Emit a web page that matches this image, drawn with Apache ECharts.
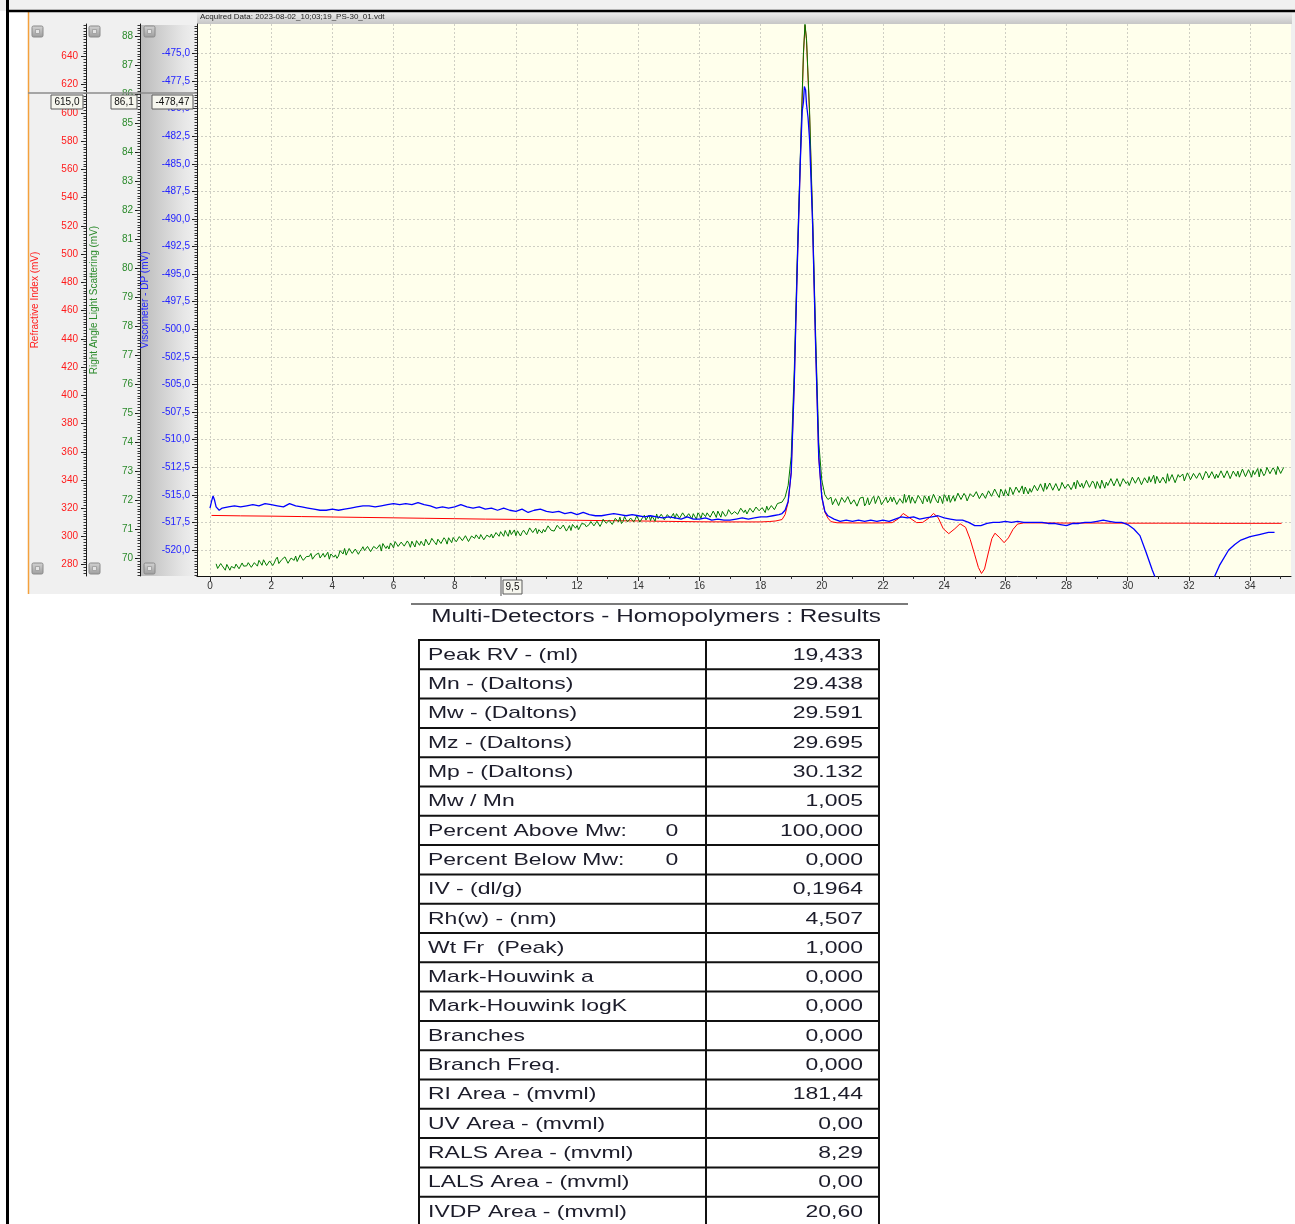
<!DOCTYPE html>
<html>
<head>
<meta charset="utf-8">
<title>PS-30 multi-detector chromatogram</title>
<script src="https://cdn.jsdelivr.net/npm/echarts@6.0.0/dist/echarts.min.js"></script>
<style>
  html, body { margin: 0; padding: 0; background: #ffffff; }
  #chart { width: 1295px; height: 1224px; }
</style>
</head>
<body>
<div id="chart"></div>
<script>
// ---- data (retention volume in ml) ----

// Refractive Index trace, mV
const riTrace = [
  [0.05, 314.9], [1, 314.6], [2, 314.4], [3, 314.1], [4, 313.8], [5, 313.5], [6, 313.2], [7, 312.9],
  [8, 312.6], [9, 312.3], [10, 312.1], [11, 311.8], [12, 311.5], [13, 311.2], [14, 311.0], [15, 310.7],
  [16, 310.4], [17, 310.3], [18, 310.3], [18.3, 310.6], [18.5, 311.0], [18.6, 311.5], [18.7, 312.0],
  [18.8, 315.5], [18.9, 324.3], [19.0, 345.4], [19.1, 408.7], [19.2, 493.2], [19.3, 567.1], [19.4, 641.0],
  [19.45, 662.1], [19.5, 651.5], [19.6, 598.8], [19.7, 521.3], [19.8, 433.4], [19.9, 355.9], [20.0, 327.8],
  [20.1, 317.2], [20.2, 313.0], [20.3, 310.5], [20.5, 309.7], [21, 309.6], [22, 309.6], [22.3, 309.8],
  [22.5, 312.5], [22.66, 316.3], [22.85, 313.5], [23.1, 309.8], [23.3, 310.0], [23.5, 313.0], [23.65, 316.3],
  [23.8, 313.5], [23.97, 305.5], [24.15, 302.0], [24.35, 305.5], [24.52, 309.0], [24.7, 306.5], [24.85, 298.0],
  [25.0, 287.0], [25.12, 278.0], [25.22, 273.8], [25.32, 277.0], [25.45, 289.0], [25.56, 298.5], [25.66, 302.3],
  [25.8, 299.5], [25.96, 295.6], [26.1, 299.0], [26.25, 305.0], [26.4, 308.8], [26.6, 309.6], [27, 309.6],
  [28, 309.5], [29, 309.5], [30, 309.4], [31, 309.4], [32, 309.4], [33, 309.3], [34, 309.3], [35.03, 309.3]
];

// Right Angle Light Scattering, mV: noisy baseline, two interleaved sample sets 0.05 ml apart
const ralsStep = 0.1;
const ralsPreStart = 0.2;
const ralsPre = [
  69.80, 69.62, 69.73, 69.58, 69.76, 69.71, 69.65, 69.84, 69.61, 69.72,
  69.73, 69.86, 69.67, 69.83, 69.92, 69.75, 69.84, 69.73, 69.91, 69.83,
  70.03, 69.84, 69.91, 70.01, 69.81, 70.00, 70.07, 69.92, 70.00, 69.89,
  70.09, 70.16, 69.95, 70.07, 70.00, 70.16, 70.05, 69.96, 70.19, 70.11,
  70.07, 70.23, 70.33, 70.14, 70.24, 70.11, 70.32, 70.23, 70.39, 70.21,
  70.36, 70.24, 70.45, 70.35, 70.24, 70.45, 70.42, 70.52, 70.35, 70.49,
  70.42, 70.60, 70.41, 70.51, 70.58, 70.38, 70.52, 70.58, 70.42, 70.67,
  70.54, 70.63, 70.46, 70.70, 70.54, 70.63, 70.70, 70.53, 70.63, 70.57,
  70.77, 70.64, 70.75, 70.56, 70.74, 70.80, 70.66, 70.75, 70.64, 70.84,
  70.83, 70.67, 70.83, 70.91, 70.75, 70.84, 70.97, 70.81, 70.77, 70.93,
  70.88, 70.99, 70.83, 71.06, 70.88, 70.84, 71.01, 70.99, 70.85, 71.09,
  71.02, 70.95, 71.14, 70.94, 71.11, 71.02, 70.95, 71.15, 71.12, 71.03,
  71.25, 71.08, 71.16, 71.25, 71.06, 71.25, 71.19, 71.32, 71.16, 71.28,
  71.17, 71.35, 71.41, 71.26, 71.33, 71.19, 71.42, 71.33, 71.41, 71.28,
  71.48, 71.35, 71.29, 71.43, 71.52, 71.33, 71.43, 71.29, 71.49, 71.43,
  71.36, 71.53, 71.41, 71.56, 71.35, 71.49, 71.53, 71.34, 71.49, 71.56,
  71.43, 71.62, 71.42, 71.52, 71.62, 71.41, 71.59, 71.51, 71.67, 71.50,
  71.61, 71.49, 71.69, 71.66, 71.50, 71.71, 71.60, 71.76, 71.59, 71.69,
  71.79, 71.65, 71.77, 71.66, 71.86
];
const ralsPreMidStart = 0.25;
const ralsPreMid = [
  69.64, 69.81, 69.68, 69.78, 69.58, 69.74, 69.79, 69.63, 69.83, 69.66,
  69.84, 69.68, 69.84, 69.72, 69.84, 69.94, 69.74, 69.90, 69.74, 69.96,
  69.81, 69.95, 70.04, 69.82, 70.00, 69.92, 69.88, 70.11, 69.92, 70.05,
  70.06, 69.96, 70.11, 70.17, 69.97, 70.03, 70.20, 70.14, 70.03, 69.99,
  70.26, 70.14, 70.10, 70.33, 70.16, 70.31, 70.13, 70.30, 70.26, 70.40,
  70.22, 70.40, 70.32, 70.46, 70.50, 70.33, 70.31, 70.45, 70.57, 70.40,
  70.55, 70.41, 70.59, 70.37, 70.52, 70.60, 70.44, 70.49, 70.65, 70.45,
  70.68, 70.53, 70.65, 70.50, 70.70, 70.48, 70.64, 70.71, 70.56, 70.74,
  70.60, 70.77, 70.57, 70.76, 70.68, 70.83, 70.81, 70.63, 70.79, 70.72,
  70.69, 70.88, 70.75, 70.85, 70.95, 70.75, 70.81, 70.97, 70.94, 70.76,
  70.96, 70.80, 71.04, 70.88, 71.03, 70.98, 70.86, 70.90, 71.11, 70.96,
  70.93, 71.13, 71.00, 71.14, 70.93, 71.12, 71.16, 71.03, 70.98, 71.19,
  71.17, 71.05, 71.26, 71.11, 71.27, 71.09, 71.34, 71.20, 71.30, 71.16,
  71.37, 71.25, 71.19, 71.43, 71.25, 71.38, 71.25, 71.46, 71.24, 71.41,
  71.31, 71.48, 71.45, 71.27, 71.36, 71.51, 71.32, 71.50, 71.37, 71.54,
  71.53, 71.37, 71.56, 71.40, 71.53, 71.35, 71.43, 71.56, 71.37, 71.54,
  71.56, 71.41, 71.62, 71.40, 71.56, 71.61, 71.44, 71.67, 71.51, 71.60,
  71.51, 71.72, 71.57, 71.52, 71.72, 71.58, 71.76, 71.63, 71.74, 71.57,
  71.65, 71.81, 71.67, 71.88
];
const ralsPeak = [
  [18.7, 71.93], [18.8, 72.10], [18.9, 72.51], [19.0, 73.51], [19.1, 76.49], [19.2, 80.47], [19.3, 83.95],
  [19.4, 87.44], [19.45, 88.42], [19.5, 87.92], [19.6, 85.43], [19.7, 81.79], [19.8, 77.64], [19.9, 74.00],
  [20.0, 72.68], [20.1, 72.18], [20.2, 72.02]
];
const ralsPostStart = 20.3;
const ralsPost = [
  72.10, 71.85, 72.02, 71.80, 72.05, 71.92, 72.13, 71.87, 71.98, 71.83,
  72.03, 71.80, 72.08, 71.93, 72.13, 71.87, 72.03, 71.81, 72.10, 71.98,
  71.94, 72.15, 71.89, 72.08, 72.20, 71.94, 71.89, 72.13, 72.02, 72.17,
  71.87, 72.07, 72.14, 71.94, 72.17, 71.90, 72.05, 72.19, 71.96, 71.92,
  72.15, 71.93, 72.25, 72.05, 72.14, 71.96, 72.25, 72.13, 72.31, 72.07,
  72.25, 72.08, 72.34, 72.14, 72.39, 72.09, 72.29, 72.36, 72.14, 72.35,
  72.22, 72.49, 72.29, 72.21, 72.47, 72.40, 72.22, 72.52, 72.35, 72.51,
  72.59, 72.35, 72.47, 72.29, 72.59, 72.42, 72.64, 72.37, 72.56, 72.47,
  72.39, 72.63, 72.58, 72.44, 72.72, 72.40, 72.58, 72.64, 72.40, 72.68,
  72.62, 72.48, 72.73, 72.53, 72.71, 72.44, 72.70, 72.64, 72.51, 72.80,
  72.58, 72.80, 72.52, 72.74, 72.81, 72.65, 72.57, 72.86, 72.62, 72.75,
  72.91, 72.69, 72.84, 72.60, 72.79, 72.90, 72.67, 72.84, 72.65, 72.90,
  72.79, 72.97, 72.71, 72.92, 72.70, 72.96, 72.90, 72.77, 73.03, 72.81,
  73.01, 72.73, 72.95, 73.00, 72.83, 73.06, 72.79, 72.93, 73.02, 72.82,
  72.80, 73.11, 72.92, 73.09, 72.90, 73.04, 73.16, 72.92, 73.13
];
const ralsPostMidStart = 20.35;
const ralsPostMid = [
  71.84, 72.05, 71.81, 72.09, 71.92, 72.12, 71.86, 72.01, 71.79, 72.07,
  72.10, 71.89, 71.83, 72.06, 71.88, 72.14, 71.84, 72.01, 71.91, 72.11,
  72.10, 71.85, 72.05, 71.89, 71.92, 72.17, 72.11, 71.89, 72.16, 71.99,
  72.15, 71.94, 71.89, 72.20, 71.97, 72.14, 71.88, 72.11, 72.17, 71.95,
  71.96, 72.24, 72.02, 72.23, 71.97, 72.22, 72.11, 72.29, 72.05, 72.24,
  72.06, 72.32, 72.13, 72.38, 72.17, 72.38, 72.14, 72.23, 72.44, 72.19,
  72.45, 72.26, 72.49, 72.45, 72.21, 72.27, 72.51, 72.32, 72.56, 72.30,
  72.37, 72.59, 72.34, 72.57, 72.32, 72.61, 72.40, 72.55, 72.36, 72.62,
  72.68, 72.45, 72.41, 72.68, 72.44, 72.66, 72.40, 72.65, 72.69, 72.41,
  72.50, 72.74, 72.49, 72.74, 72.47, 72.74, 72.57, 72.50, 72.79, 72.58,
  72.79, 72.53, 72.77, 72.59, 72.62, 72.86, 72.82, 72.59, 72.79, 72.58,
  72.65, 72.88, 72.60, 72.88, 72.85, 72.66, 72.94, 72.70, 72.92, 72.75,
  72.94, 72.70, 72.99, 72.76, 72.98, 72.74, 72.77, 73.01, 72.77, 73.01,
  72.74, 73.00, 72.82, 72.79, 73.07, 72.81, 73.05, 72.79, 72.88, 73.09,
  73.08, 72.84, 73.13, 72.91, 73.11, 72.88, 73.13, 72.93
];

// Viscometer DP trace, mV
const viscTrace = [
  [0.0, -516.2], [0.05, -515.6], [0.1, -515.1], [0.15, -515.5], [0.2, -516.1], [0.3, -516.4], [0.4, -516.2],
  [0.6, -516.1], [0.8, -516.0], [1.0, -516.1], [1.2, -516.0], [1.4, -515.9], [1.6, -516.0], [1.8, -515.8],
  [2.0, -515.9], [2.2, -516.0], [2.4, -516.1], [2.6, -515.8], [2.8, -516.0], [3.0, -516.1], [3.2, -516.2],
  [3.4, -516.3], [3.6, -516.4], [3.8, -516.4], [4.0, -516.3], [4.2, -516.4], [4.4, -516.3], [4.6, -516.2],
  [4.8, -516.1], [5.0, -516.0], [5.2, -516.0], [5.4, -516.1], [5.6, -516.0], [5.8, -515.9], [6.0, -515.8],
  [6.2, -515.9], [6.4, -515.8], [6.6, -515.9], [6.8, -515.7], [7.0, -515.9], [7.2, -516.0], [7.4, -516.2],
  [7.6, -516.1], [7.8, -516.2], [8.0, -516.1], [8.2, -515.9], [8.4, -516.1], [8.6, -516.2], [8.8, -516.1],
  [9.0, -516.3], [9.2, -516.2], [9.4, -516.4], [9.6, -516.2], [9.8, -516.4], [10.0, -516.5], [10.2, -516.3],
  [10.4, -516.6], [10.6, -516.4], [10.8, -516.3], [11.0, -516.5], [11.2, -516.6], [11.4, -516.5], [11.6, -516.7],
  [11.8, -516.6], [12.0, -516.8], [12.2, -516.6], [12.4, -516.8], [12.6, -516.9], [12.8, -516.9], [13.0, -516.8],
  [13.2, -516.7], [13.4, -516.8], [13.6, -516.9], [13.8, -516.8], [14.0, -516.9], [14.2, -517.0], [14.4, -516.9],
  [14.6, -517.0], [14.8, -517.1], [15.0, -517.0], [15.2, -517.1], [15.4, -517.2], [15.6, -517.0], [15.8, -517.2],
  [16.0, -517.2], [16.2, -517.1], [16.4, -517.3], [16.6, -517.2], [16.8, -517.3], [17.0, -517.3], [17.2, -517.2],
  [17.4, -517.1], [17.6, -517.2], [17.8, -517.1], [18.0, -517.0], [18.2, -517.0], [18.4, -516.9], [18.6, -516.8],
  [18.7, -516.7], [18.8, -516.4], [18.9, -515.6], [19.0, -513.0], [19.1, -504.9], [19.2, -494.1], [19.3, -484.6],
  [19.36, -480.2], [19.4, -479.4], [19.43, -478.0], [19.47, -478.3], [19.5, -479.6], [19.55, -480.8],
  [19.6, -482.8], [19.7, -490.5], [19.8, -501.7], [19.9, -511.6], [20.0, -515.2], [20.1, -516.5], [20.2, -516.9],
  [20.4, -517.2], [20.6, -517.4], [20.8, -517.3], [21.0, -517.4], [21.2, -517.3], [21.4, -517.4], [21.6, -517.3],
  [21.8, -517.4], [22.0, -517.3], [22.2, -517.4], [22.4, -517.2], [22.6, -517.0], [22.8, -517.1], [23.0, -517.0],
  [23.2, -517.2], [23.4, -517.1], [23.6, -517.0], [23.8, -516.9], [24.0, -517.1], [24.2, -517.2], [24.4, -517.3],
  [24.6, -517.3], [24.8, -517.5], [25.0, -517.8], [25.2, -517.8], [25.4, -517.6], [25.6, -517.5], [25.8, -517.5],
  [26.0, -517.4], [26.2, -517.5], [26.4, -517.4], [26.6, -517.5], [26.8, -517.5], [27.0, -517.5], [27.2, -517.5],
  [27.4, -517.6], [27.6, -517.6], [27.8, -517.7], [28.0, -517.8], [28.2, -517.6], [28.4, -517.6], [28.6, -517.5],
  [28.8, -517.5], [29.0, -517.4], [29.2, -517.3], [29.4, -517.4], [29.6, -517.5], [29.8, -517.5], [30.0, -517.7],
  [30.2, -518.1], [30.4, -518.7], [30.6, -520.2], [30.8, -521.8], [30.9, -522.5], [31.2, -526.0], [32.5, -526.0],
  [32.84, -522.4], [33.0, -521.4], [33.3, -520.0], [33.5, -519.5], [33.7, -519.1], [34.0, -518.8], [34.3, -518.6],
  [34.6, -518.4], [34.8, -518.4]
];

// axis tick labels
const rvLabels = [0, 2, 4, 6, 8, 12, 14, 16, 18, 20, 22, 24, 26, 28, 30, 32, 34];
const riLabels = [280, 300, 320, 340, 360, 380, 400, 420, 440, 460, 480, 500, 520, 540, 560, 580, 600, 620, 640];
const ralsLabels = [70, 71, 72, 73, 74, 75, 76, 77, 78, 79, 80, 81, 82, 83, 84, 85, 86, 87, 88];
const viscLabels = [-520, -517.5, -515, -512.5, -510, -507.5, -505, -502.5, -500, -497.5, -495, -492.5,
  -490, -487.5, -485, -482.5, -480, -477.5, -475];

// results table
const resultNames = ['Peak RV - (ml)', 'Mn - (Daltons)', 'Mw - (Daltons)', 'Mz - (Daltons)', 'Mp - (Daltons)',
  'Mw / Mn', 'Percent Above Mw:', 'Percent Below Mw:', 'IV - (dl/g)', 'Rh(w) - (nm)', 'Wt Fr  (Peak)',
  'Mark-Houwink a', 'Mark-Houwink logK', 'Branches', 'Branch Freq.', 'RI Area - (mvml)', 'UV Area - (mvml)',
  'RALS Area - (mvml)', 'LALS Area - (mvml)', 'IVDP Area - (mvml)'];
const resultNotes = ['', '', '', '', '', '', '0', '0', '', '', '', '', '', '', '', '', '', '', '', ''];
const resultValues = ['19,433', '29.438', '29.591', '29.695', '30.132', '1,005', '100,000', '0,000', '0,1964',
  '4,507', '1,000', '0,000', '0,000', '0,000', '0,000', '181,44', '0,00', '8,29', '0,00', '20,60'];

// ---- chart ----
const FONT = '"Liberation Sans", Arial, sans-serif';
const chart = echarts.init(document.getElementById('chart'));

function steps(from, to, step) {
  const out = [];
  for (let v = from; v <= to + step / 1000; v += step) out.push(+v.toFixed(3));
  return out;
}

function sampled(values, start) {
  return values.map((v, i) => [+(start + i * ralsStep).toFixed(2), v]);
}
const byRv = (a, b) => a[0] - b[0];
const ralsTrace = sampled(ralsPre, ralsPreStart).concat(sampled(ralsPreMid, ralsPreMidStart)).sort(byRv)
  .concat(ralsPeak)
  .concat(sampled(ralsPost, ralsPostStart).concat(sampled(ralsPostMid, ralsPostMidStart)).sort(byRv));

function majorAxis(o) {
  return {
    type: 'value', position: 'left', offset: o.offset, min: o.min, max: o.max,
    name: o.name, nameLocation: 'middle', nameGap: o.nameGap, nameRotate: 90,
    nameTextStyle: { color: o.color, fontSize: 10, fontFamily: FONT },
    axisLine: { show: true, onZero: false, lineStyle: { color: '#1a1a1a', width: 1 } },
    axisTick: { show: true, length: 5, customValues: o.ticks, lineStyle: { color: '#1a1a1a' } },
    axisLabel: {
      show: true, customValues: o.ticks, color: o.color, fontSize: 10, fontFamily: FONT,
      margin: o.margin, padding: [0, 0, 6, 0], formatter: o.fmt
    },
    splitLine: o.split
      ? { show: true, lineStyle: { color: '#cfcfc4', type: [2, 2], width: 1 } }
      : { show: false }
  };
}

function minorAxis(o, minor) {
  return {
    type: 'value', position: 'left', offset: o.offset, min: o.min, max: o.max,
    axisLine: { show: false, onZero: false },
    axisTick: { show: true, length: 2.5, customValues: minor, lineStyle: { color: '#333' } },
    axisLabel: { show: false },
    splitLine: { show: false }
  };
}

const riAxis = { offset: 111, min: 272, max: 663, name: 'Refractive Index (mV)', nameGap: 46, color: '#ff1a1a',
  ticks: riLabels, margin: 8, fmt: v => String(v) };
const ralsAxis = { offset: 57, min: 69.38, max: 88.43, name: 'Right Angle Light Scattering (mV)', nameGap: 41,
  color: '#2b8a2b', ticks: ralsLabels, margin: 7, fmt: v => String(v) };
const viscAxis = { offset: 0, min: -522.36, max: -472.33, name: 'Viscometer - DP (mV)', nameGap: 44,
  color: '#2424ff', ticks: viscLabels, margin: 7, split: true, fmt: v => v.toFixed(1).replace('.', ',') };

// panel decoration, cursor readouts, results table
const graphics = [];
graphics.push({ type: 'rect', z: -20, shape: { x: 0, y: 0, width: 1295, height: 11 }, style: { fill: '#f0f0f0' } });
graphics.push({ type: 'rect', z: -20, shape: { x: 28, y: 12, width: 1267, height: 582 }, style: { fill: '#f0f0f0' } });
graphics.push({ type: 'rect', z: -15, shape: { x: 141, y: 25, width: 56, height: 551 },
  style: { fill: new echarts.graphic.LinearGradient(0, 0, 1, 0, [
    { offset: 0, color: '#bcbcbc' }, { offset: 0.75, color: '#e6e6e6' }, { offset: 1, color: '#f0f0f0' }]) } });
graphics.push({ type: 'rect', z: -15, shape: { x: 197, y: 12, width: 1095, height: 12 },
  style: { fill: new echarts.graphic.LinearGradient(0, 0, 0, 1, [
    { offset: 0, color: '#eeeeee' }, { offset: 1, color: '#c6c6c6' }]) } });
graphics.push({ type: 'text', z: 50, x: 200, y: 17,
  style: { text: 'Acquired Data: 2023-08-02_10;03;19_PS-30_01.vdt', font: '8px ' + FONT, fill: '#222',
    align: 'left', verticalAlign: 'middle', textAlign: 'left', textVerticalAlign: 'middle' } });
graphics.push({ type: 'line', z: 50, shape: { x1: 28.5, y1: 12, x2: 28.5, y2: 594 },
  style: { stroke: '#f4a13c', lineWidth: 1.5 } });
graphics.push({ type: 'line', z: 50, shape: { x1: 7.5, y1: 0, x2: 7.5, y2: 1224 }, style: { stroke: '#000', lineWidth: 3 } });
graphics.push({ type: 'line', z: 50, shape: { x1: 7, y1: 11, x2: 1295, y2: 11 }, style: { stroke: '#000', lineWidth: 2.5 } });

// little square buttons at both ends of each axis strip
[32, 89, 144].forEach(bx => {
  [26, 563].forEach(by => {
    graphics.push({ type: 'rect', z: 40, shape: { x: bx, y: by, width: 11, height: 11, r: 1.5 },
      style: { fill: new echarts.graphic.LinearGradient(0, 0, 0, 1, [
        { offset: 0, color: '#d4d4d4' }, { offset: 1, color: '#9c9c9c' }]), stroke: '#8a8a8a', lineWidth: 1 } });
    graphics.push({ type: 'rect', z: 41, shape: { x: bx + 3.5, y: by + 3.5, width: 4, height: 4 },
      style: { fill: '#e4e4e4', stroke: '#9a9a9a', lineWidth: 0.8 } });
  });
});

// cursor readouts
graphics.push({ type: 'line', z: 60, shape: { x1: 28, y1: 93, x2: 197, y2: 93 }, style: { stroke: '#8c8c8c', lineWidth: 1.5 } });
[[51, 32, '615,0'], [111, 26, '86,1'], [152, 41, '-478,47']].forEach(([bx, bw, txt]) => {
  graphics.push({ type: 'rect', z: 61, shape: { x: bx, y: 95, width: bw, height: 14 },
    style: { fill: '#f6f6ee', stroke: '#5a5a5a', lineWidth: 1 } });
  graphics.push({ type: 'text', z: 62, x: bx + bw / 2, y: 102.5,
    style: { text: txt, font: '10px ' + FONT, fill: '#111', align: 'center', verticalAlign: 'middle',
      textAlign: 'center', textVerticalAlign: 'middle' } });
});
graphics.push({ type: 'line', z: 60, shape: { x1: 501, y1: 577, x2: 501, y2: 596 }, style: { stroke: '#8c8c8c', lineWidth: 1.5 } });
graphics.push({ type: 'rect', z: 61, shape: { x: 503, y: 580, width: 19, height: 14 },
  style: { fill: '#f6f6ee', stroke: '#5a5a5a', lineWidth: 1 } });
graphics.push({ type: 'text', z: 62, x: 512.5, y: 587.5,
  style: { text: '9,5', font: '10px ' + FONT, fill: '#111', align: 'center', verticalAlign: 'middle',
    textAlign: 'center', textVerticalAlign: 'middle' } });

// results table
const tLeft = 419, tMid = 706, tRight = 879, tTop = 640, rowH = 29.3;
const txtScale = 1.35;
graphics.push({ type: 'line', z: 10, shape: { x1: 411, y1: 604, x2: 908, y2: 604 }, style: { stroke: '#7a7a7a', lineWidth: 2 } });
graphics.push({ type: 'text', z: 10, x: 656, y: 617, scaleX: txtScale,
  style: { text: 'Multi-Detectors - Homopolymers : Results', font: '18px ' + FONT, fill: '#1c1c2a',
    align: 'center', verticalAlign: 'middle', textAlign: 'center', textVerticalAlign: 'middle' } });
for (let i = 0; i <= resultNames.length; i++) {
  const y = tTop + i * rowH;
  graphics.push({ type: 'line', z: 10, shape: { x1: tLeft - 1, y1: y, x2: tRight + 1, y2: y },
    style: { stroke: '#111', lineWidth: 2 } });
}
[tLeft, tMid, tRight].forEach(x => {
  graphics.push({ type: 'line', z: 10, shape: { x1: x, y1: tTop, x2: x, y2: 1224 }, style: { stroke: '#111', lineWidth: 2 } });
});
resultNames.forEach((name, i) => {
  const cy = tTop + i * rowH + rowH / 2 + 0.5;
  graphics.push({ type: 'text', z: 11, x: 428, y: cy, scaleX: txtScale,
    style: { text: name, font: '17px ' + FONT, fill: '#1c1c2a', align: 'left', verticalAlign: 'middle',
      textAlign: 'left', textVerticalAlign: 'middle' } });
  if (resultNotes[i]) {
    graphics.push({ type: 'text', z: 11, x: 672, y: cy, scaleX: txtScale,
      style: { text: resultNotes[i], font: '17px ' + FONT, fill: '#1c1c2a', align: 'center', verticalAlign: 'middle',
        textAlign: 'center', textVerticalAlign: 'middle' } });
  }
  graphics.push({ type: 'text', z: 11, x: 863, y: cy, scaleX: txtScale,
    style: { text: resultValues[i], font: '17px ' + FONT, fill: '#1c1c2a', align: 'right', verticalAlign: 'middle',
      textAlign: 'right', textVerticalAlign: 'middle' } });
});

const option = {
  animation: false,
  textStyle: { fontFamily: FONT },
  grid: { left: 197, right: 4, top: 24, bottom: 648, show: true, backgroundColor: '#ffffec', borderWidth: 0 },
  xAxis: [
    {
      type: 'value', min: -0.425, max: 35.338,
      axisLine: { show: true, onZero: false, lineStyle: { color: '#111', width: 1 } },
      axisTick: { show: true, length: 5, customValues: rvLabels.concat([10]), lineStyle: { color: '#222' } },
      axisLabel: { show: true, customValues: rvLabels, color: '#333', fontSize: 10, fontFamily: FONT, margin: 5 },
      splitLine: { show: true, lineStyle: { color: '#cfcfc4', type: [2, 2], width: 1 } }
    },
    {
      type: 'value', min: -0.425, max: 35.338, position: 'bottom',
      axisLine: { show: false, onZero: false },
      axisTick: { show: true, length: 3, customValues: steps(0, 35, 1), lineStyle: { color: '#333' } },
      axisLabel: { show: false },
      splitLine: { show: false }
    }
  ],
  yAxis: [
    majorAxis(riAxis), minorAxis(riAxis, steps(274, 662, 2)),
    majorAxis(ralsAxis), minorAxis(ralsAxis, steps(69.4, 88.4, 0.1)),
    majorAxis(viscAxis), minorAxis(viscAxis, steps(-522.25, -472.5, 0.25))
  ],
  series: [
    { name: 'Refractive Index', type: 'line', xAxisIndex: 0, yAxisIndex: 0, data: riTrace,
      showSymbol: false, silent: true, lineStyle: { color: '#ff0000', width: 1 }, z: 3 },
    { name: 'Right Angle Light Scattering', type: 'line', xAxisIndex: 0, yAxisIndex: 2, data: ralsTrace,
      showSymbol: false, silent: true, lineStyle: { color: '#007a00', width: 1 }, z: 4 },
    { name: 'Viscometer - DP', type: 'line', xAxisIndex: 0, yAxisIndex: 4, data: viscTrace,
      showSymbol: false, silent: true, lineStyle: { color: '#0000ff', width: 1.3 }, z: 5 }
  ],
  graphic: { elements: graphics }
};

chart.setOption(option);
window.addEventListener('resize', () => chart.resize());
</script>
</body>
</html>
